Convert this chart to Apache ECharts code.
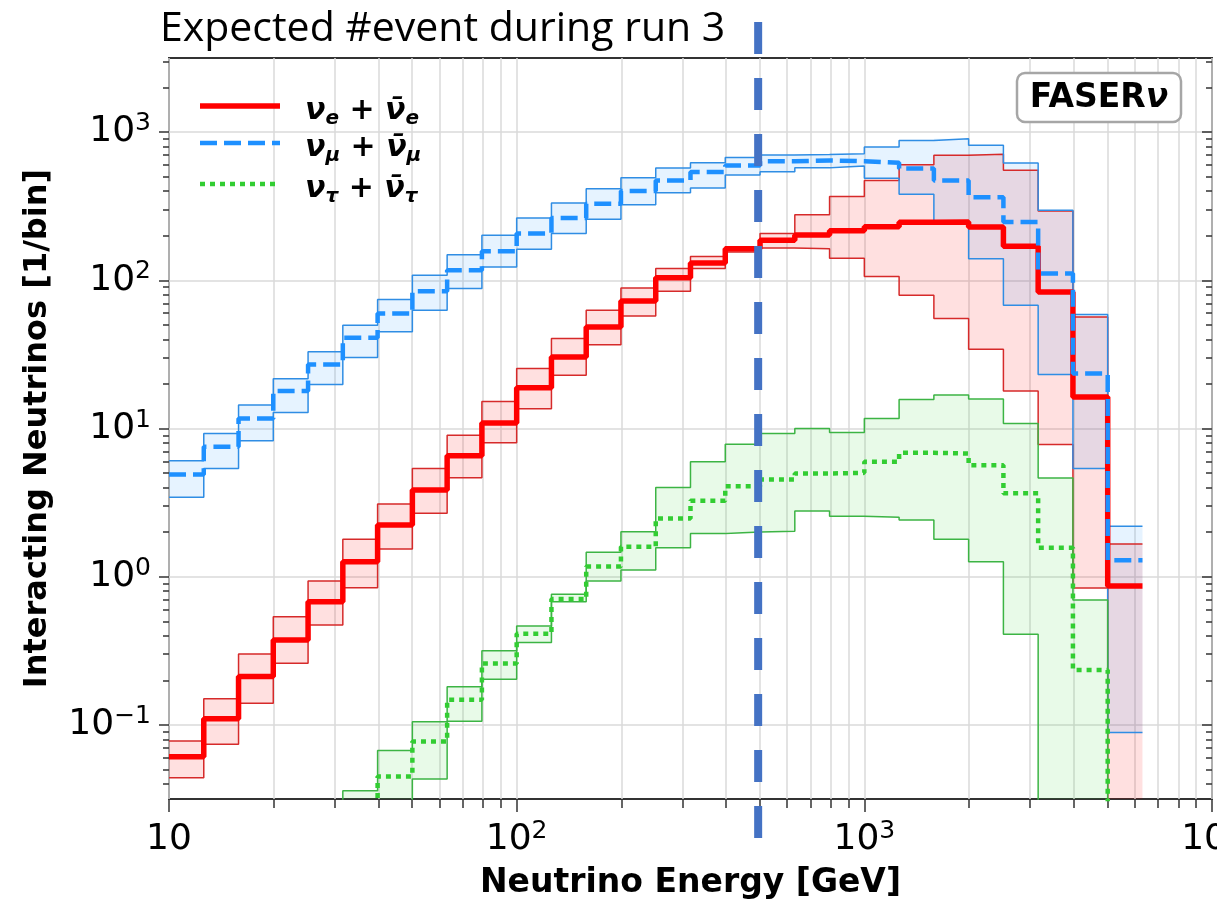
<!DOCTYPE html>
<html>
<head>
<meta charset="UTF-8">
<title>Expected #event during run 3</title>
<script src="https://cdn.jsdelivr.net/npm/echarts@6/dist/echarts.min.js"></script>
<style>
  html, body { margin: 0; padding: 0; background: #fff; }
  #main { width: 1217px; height: 902px; }
</style>
</head>
<body>
<div id="main"></div>
<script>
// bin edges in GeV (10 bins per decade)
var edges = [10, 12.59, 15.85, 19.95, 25.12, 31.62, 39.81, 50.12, 63.10, 79.43,
             100, 125.9, 158.5, 199.5, 251.2, 316.2, 398.1, 501.2, 631.0, 794.3,
             1000, 1259, 1585, 1995, 2512, 3162, 3981, 5012, 6310];

// interacting neutrinos per bin (0 = below the plotted range)
var nueMid  = [0.061, 0.110, 0.212, 0.374, 0.678, 1.26, 2.23, 3.84, 6.55, 10.9, 18.8, 30.4, 48.4, 72.6, 104, 131, 163, 186, 202, 216, 230, 246, 247, 229, 170, 83.4, 16.3, 0.865];
var nueLow  = [0.044, 0.074, 0.140, 0.261, 0.472, 0.843, 1.54, 2.68, 4.65, 8.0, 13.6, 22.9, 36.8, 57.5, 84.4, 120, 155, 165, 163, 141, 106, 79.3, 55.2, 34.3, 17.9, 7.8, 0.84, 0];
var nueHigh = [0.078, 0.150, 0.301, 0.537, 0.935, 1.79, 3.09, 5.37, 9.02, 15.2, 25.4, 40.5, 62.8, 88.8, 120, 145, 168, 207, 277, 368, 472, 603, 697, 708, 552, 293, 56.6, 1.66];

var numuMid  = [4.90, 7.52, 11.7, 17.9, 27.0, 41.0, 59.6, 84.4, 117, 157, 207, 263, 329, 400, 472, 537, 596, 636, 644, 636, 620, 569, 472, 364, 247, 111, 23.5, 1.29];
var numuLow  = [3.43, 5.37, 8.26, 12.8, 19.8, 30.1, 44.9, 62.8, 88.0, 123, 162, 207, 258, 324, 390, 420, 513, 540, 575, 590, 488, 381, 252, 140, 67.8, 23.1, 5.37, 0.089];
var numuHigh = [6.05, 9.25, 14.4, 21.7, 32.9, 49.8, 74.1, 108, 149, 201, 263, 332, 415, 492, 572, 621, 675, 700, 705, 714, 793, 879, 902, 815, 618, 297, 58.7, 2.19];

var nutauMid  = [0, 0, 0, 0, 0, 0, 0.0449, 0.0773, 0.148, 0.260, 0.412, 0.706, 1.17, 1.59, 2.47, 3.25, 4.08, 4.53, 4.97, 5.02, 5.96, 6.85, 6.78, 5.66, 3.65, 1.57, 0.235, 0];
var nutauLow  = [0, 0, 0, 0, 0, 0, 0, 0.0432, 0.106, 0.203, 0.360, 0.678, 0.935, 1.11, 1.57, 1.96, 2.00, 2.03, 2.77, 2.56, 2.52, 2.41, 1.79, 1.26, 0.409, 0, 0, 0];
var nutauHigh = [0, 0, 0, 0, 0, 0.0359, 0.0671, 0.105, 0.181, 0.316, 0.464, 0.760, 1.46, 2.01, 4.00, 5.96, 7.84, 9.25, 10.0, 9.4, 11.7, 15.7, 16.8, 15.8, 10.8, 4.64, 0.697, 0];

// ticks
var xMajor = [10, 100, 1000, 10000];
var xMinor = [20, 30, 40, 50, 60, 70, 80, 90, 200, 300, 400, 500, 600, 700, 800, 900,
              2000, 3000, 4000, 5000, 6000, 7000, 8000, 9000];
var yMajor = [0.1, 1, 10, 100, 1000];
var yMinor = [0.04, 0.05, 0.06, 0.07, 0.08, 0.09, 0.2, 0.3, 0.4, 0.5, 0.6, 0.7, 0.8, 0.9,
              2, 3, 4, 5, 6, 7, 8, 9, 20, 30, 40, 50, 60, 70, 80, 90,
              200, 300, 400, 500, 600, 700, 800, 900, 2000, 3000];
var yMin = 0.031623, yMax = 3162.3;
var run3Cut = 495;   // GeV, dashed marker

var floorVal = 1e-4; // where zero bins are drawn (off the log axis)

var chart = echarts.init(document.getElementById('main'));

function stepData(vals) {
    var d = [];
    for (var i = 0; i < vals.length; i++) {
        d.push([edges[i], vals[i] > 0 ? vals[i] : floorVal]);
    }
    d.push([edges[vals.length], d[d.length - 1][1]]);
    return d;
}

function stepLine(vals, color, width, dash, z) {
    return {
        type: 'line', step: 'end', data: stepData(vals),
        symbol: 'none', silent: true, z: z, clip: true,
        lineStyle: { color: color, width: width, type: dash },
        emphasis: { disabled: true }
    };
}

// filled band between lo and hi, one polygon
function band(lo, hi, fill) {
    return {
        type: 'custom', coordinateSystem: 'cartesian2d', silent: true, z: 1,
        data: [[edges[0], 1]],
        renderItem: function (params, api) {
            var top = params.coordSys.y, bottom = top + params.coordSys.height;
            function pt(x, v) {
                var p = api.coord([x, v > 0 ? v : floorVal]);
                return [p[0], Math.min(Math.max(p[1], top), bottom)];
            }
            var pts = [];
            for (var i = 0; i < hi.length; i++) {
                pts.push(pt(edges[i], hi[i]), pt(edges[i + 1], hi[i]));
            }
            for (var j = lo.length - 1; j >= 0; j--) {
                pts.push(pt(edges[j + 1], lo[j]), pt(edges[j], lo[j]));
            }
            return { type: 'polygon', shape: { points: pts }, style: { fill: fill } };
        }
    };
}

function supLabel(v) {
    var e = Math.round(Math.log(v) / Math.LN10);
    return '{b|10}{s|' + (e < 0 ? '\u2212' + (-e) : e) + '}';
}

var tickRich = {
    b: { fontFamily: 'DejaVu Sans', fontSize: 36, color: '#000', lineHeight: 42 },
    s: { fontFamily: 'DejaVu Sans', fontSize: 25, color: '#000', lineHeight: 22, verticalAlign: 'top' }
};
var tickLine = { color: '#333', width: 1.5 };
var gridLine = { color: '#dadada', width: 1.5 };

var option = {
    animation: false,
    backgroundColor: '#fff',
    title: {
        text: 'Expected #event during run 3',
        left: 155, top: 4,
        textStyle: { fontFamily: 'Open Sans', fontSize: 41, fontWeight: 'normal', color: '#000' }
    },
    grid: {
        left: 169, right: 5, top: 58, bottom: 103,
        containLabel: false, outerBoundsMode: 'none',
        show: true, borderColor: '#333', borderWidth: 2, backgroundColor: 'transparent'
    },
    xAxis: [{
        type: 'log', logBase: 10, min: 10, max: 10000, position: 'bottom',
        axisLine: { show: false },
        axisTick: { length: 13, lineStyle: tickLine, customValues: xMajor },
        axisLabel: {
            customValues: xMajor, margin: 20, rich: tickRich,
            formatter: function (v) { return v === 10 ? '{b|10}' : supLabel(v); }
        },
        splitLine: { show: true, lineStyle: gridLine },
        name: 'Neutrino Energy [GeV]', nameLocation: 'middle', nameGap: 68,
        nameTextStyle: { fontFamily: 'DejaVu Sans', fontWeight: 'bold', fontSize: 33, color: '#000' }
    }, {
        type: 'log', logBase: 10, min: 10, max: 10000, position: 'bottom',
        axisLine: { show: false },
        axisTick: { length: 9, lineStyle: tickLine, customValues: xMinor },
        axisLabel: { show: false },
        splitLine: { show: true, lineStyle: gridLine }
    }],
    yAxis: [{
        type: 'log', logBase: 10, min: yMin, max: yMax, position: 'left',
        axisLine: { show: false },
        axisTick: { length: 10, lineStyle: tickLine, customValues: yMajor },
        axisLabel: { customValues: yMajor, margin: 18, rich: tickRich, formatter: supLabel },
        splitLine: { show: true, lineStyle: gridLine },
        name: 'Interacting Neutrinos [1/bin]', nameLocation: 'middle', nameGap: 115,
        nameTextStyle: { fontFamily: 'DejaVu Sans', fontWeight: 'bold', fontSize: 32, color: '#000' }
    }, {
        type: 'log', logBase: 10, min: yMin, max: yMax, position: 'left',
        axisLine: { show: false },
        axisTick: { length: 6, lineStyle: tickLine, customValues: yMinor },
        axisLabel: { show: false }, splitLine: { show: false }
    }, {
        type: 'log', logBase: 10, min: yMin, max: yMax, position: 'right',
        axisLine: { show: false },
        axisTick: { inside: true, length: 10, lineStyle: tickLine, customValues: yMajor },
        axisLabel: { show: false }, splitLine: { show: false }
    }, {
        type: 'log', logBase: 10, min: yMin, max: yMax, position: 'right',
        axisLine: { show: false },
        axisTick: { inside: true, length: 6, lineStyle: tickLine, customValues: yMinor },
        axisLabel: { show: false }, splitLine: { show: false }
    }],
    series: [
        band(nueLow, nueHigh, 'rgba(255,0,0,0.12)'),
        band(numuLow, numuHigh, 'rgba(30,144,255,0.11)'),
        band(nutauLow, nutauHigh, 'rgba(50,205,50,0.11)'),
        stepLine(nueLow, '#d62a2a', 1.5, 'solid', 3),
        stepLine(nueHigh, '#d62a2a', 1.5, 'solid', 3),
        stepLine(numuLow, '#2f8de4', 1.5, 'solid', 3),
        stepLine(numuHigh, '#2f8de4', 1.5, 'solid', 3),
        stepLine(nutauLow, '#3cb444', 1.5, 'solid', 3),
        stepLine(nutauHigh, '#3cb444', 1.5, 'solid', 3),
        stepLine(nueMid, '#ff0000', 5.5, 'solid', 5),
        stepLine(numuMid, '#1e90ff', 4.5, [17, 7], 6),
        stepLine(nutauMid, '#32cd32', 4.5, [5, 5], 7)
    ]
};

chart.setOption(option);

var cutX = chart.convertToPixel({ xAxisIndex: 0 }, run3Cut);

var legendRich = {
    a: { fontFamily: 'DejaVu Sans', fontWeight: 'bold', fontStyle: 'italic', fontSize: 30, lineHeight: 36, fill: '#000' },
    b: { fontFamily: 'DejaVu Sans', fontWeight: 'bold', fontStyle: 'italic', fontSize: 20, lineHeight: 24, verticalAlign: 'bottom', fill: '#000' }
};
var legendRows = [
    { y: 106, color: '#ff0000', width: 5.5, dash: null, text: '{a|\u03bd}{b|e}{a| + \u03bd\u0304}{b|e}' },
    { y: 143, color: '#1e90ff', width: 4.5, dash: [17, 7], text: '{a|\u03bd}{b|\u03bc}{a| + \u03bd\u0304}{b|\u03bc}' },
    { y: 184, color: '#32cd32', width: 4.5, dash: [5, 5], text: '{a|\u03bd}{b|\u03c4}{a| + \u03bd\u0304}{b|\u03c4}' }
];

var graphics = [];
legendRows.forEach(function (r, i) {
    graphics.push({
        type: 'line', id: 'lg' + i, z: 50,
        shape: { x1: 200, y1: r.y, x2: 280, y2: r.y },
        style: { stroke: r.color, lineWidth: r.width, lineDash: r.dash }
    });
    graphics.push({
        type: 'text', id: 'lt' + i, z: 50, x: 305, y: r.y + 5,
        style: { text: r.text, rich: legendRich, verticalAlign: 'middle', align: 'left' }
    });
});
graphics.push({
    type: 'rect', id: 'faserBox', z: 50,
    shape: { x: 1017, y: 73, width: 164, height: 49, r: 8 },
    style: { fill: '#fff', stroke: '#a6a6a6', lineWidth: 2.5 }
});
graphics.push({
    type: 'text', id: 'faserText', z: 51, x: 1099, y: 98,
    style: {
        text: '{a|FASER}{b|\u03bd}', align: 'center', verticalAlign: 'middle',
        rich: {
            a: { fontFamily: 'DejaVu Sans', fontWeight: 'bold', fontSize: 33, fill: '#000' },
            b: { fontFamily: 'DejaVu Sans', fontWeight: 'bold', fontStyle: 'italic', fontSize: 33, fill: '#000' }
        }
    }
});
graphics.push({
    type: 'line', id: 'run3', z: 100,
    shape: { x1: cutX, y1: 22, x2: cutX, y2: 838 },
    style: { stroke: '#4472c4', lineWidth: 8, lineDash: [32, 24] }
});

chart.setOption({ graphic: graphics });
</script>
</body>
</html>
